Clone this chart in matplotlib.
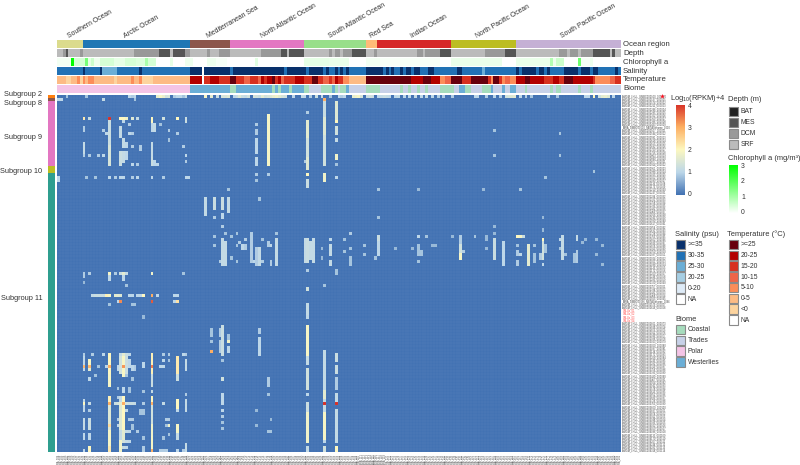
import numpy as np
import matplotlib
matplotlib.use("Agg")
import matplotlib.pyplot as plt
from matplotlib.colors import LinearSegmentedColormap, ListedColormap
from matplotlib.patches import Rectangle

plt.rcParams['font.family'] = ['Liberation Sans', 'DejaVu Sans']
plt.rcParams['mathtext.default'] = 'regular'
plt.rcParams['mathtext.fontset'] = 'custom'
plt.rcParams['mathtext.rm'] = 'Liberation Sans'
W, H = 800, 465
N_COL, N_ROW = 199, 115
TXT = '#333333'

# ---------- column annotation tracks: (category, end column) ----------
region_names = ['Southern Ocean', 'Arctic Ocean', 'Mediterranean Sea', 'North Atlantic Ocean',
                'South Atlantic Ocean', 'Red Sea', 'Indian Ocean', 'North Pacific Ocean', 'South Pacific Ocean']
region_ends = [9, 47, 61, 87, 109, 113, 139, 162, 199]
region_colors = ['#dbdb8d', '#1f77b4', '#8c564b', '#e377c2', '#98df8a', '#ffbb78', '#d62728', '#bcbd22', '#c5b0d5']
region_label_x = [69, 125, 208, 262, 330, 371, 412, 477, 562]

depth_levels = ['BAT', 'MES', 'DCM', 'SRF']
depth_colors = ['#222222', '#555555', '#999999', '#bbbbbb']
depth_runs = [(3,2),(2,3),(1,4),(3,8),(2,9),(3,27),(2,36),(1,40),(3,41),(1,45),(2,47),(3,53),(2,54),(3,57),(2,61),
              (3,72),(2,79),(1,81),(3,82),(1,87),(3,96),(2,97),(3,98),(2,100),(3,101),(2,104),(1,109),(3,112),(2,113),
              (3,127),(2,129),(3,130),(2,135),(1,139),(3,151),(2,158),(1,162),(3,177),(2,180),(3,181),(2,184),(3,185),
              (2,189),(1,195),(3,196),(1,197),(3,199)]

chl_runs = [(0.15,5),(3.0,6),(0.5,10),(1.6,11),(0.3,12),(0.6,13),(0.2,15),(0.5,20),(0.3,24),(0.5,28),(0.4,31),(1.0,32),(0.5,35),
            (0.0,40),(0.3,41),(0.0,45),(0.2,48),(0.0,53),(0.2,56),(0.1,60),(0.0,70),(0.35,71),(0.0,87),(0.3,96),(0.25,103),
            (0.0,109),(0.15,114),(0.1,135),(0.0,139),(0.25,157),(0.0,162),(0.25,174),(0.9,175),(0.2,176),(0.6,179),(0.0,184),
            (1.7,185),(0.1,188),(0.2,189),(0.0,199)]

sal_levels = ['>=35', '30-35', '25-30', '20-25', '0-20', 'NA']
sal_colors = ['#08306b', '#2171b5', '#6baed6', '#a6cee3', '#deebf7', '#ffffff']
sal_runs = [(1,9),(0,10),(1,15),(0,16),(2,17),(2,21),(1,29),(0,30),(1,47),(0,51),(5,52),(0,61),(1,62),(0,80),(1,81),(0,88),(1,89),
            (0,94),(1,95),(0,96),(1,98),(0,99),(1,100),(0,101),(1,102),(0,103),(1,109),(0,115),(1,116),(0,117),(1,118),(0,119),
            (1,121),(0,122),(1,123),(0,125),(1,126),(0,128),(1,131),(0,133),(1,135),(1,139),(1,141),(0,143),(1,150),(2,151),(1,162),
            (0,163),(1,164),(0,169),(1,170),(0,172),(1,173),(0,174),(1,179),(0,184),(1,185),(0,188),(1,189),(0,191),(1,197),(0,198),(1,199)]

temp_levels = ['>=25', '20-25', '15-20', '10-15', '5-10', '0-5', '<0', 'NA']
temp_colors = ['#67000d', '#b30000', '#d7301f', '#ef6548', '#fc8d59', '#fdbb84', '#fdd49e', '#ffffff']
temp_runs = [(5,3),(6,5),(5,7),(4,8),(6,9),(4,10),(5,11),(4,13),(6,13),(5,20),(6,21),(5,26),(4,27),(5,29),(4,30),(6,34),(5,47),
             (1,51),(7,52),(2,54),(1,57),(2,61),(0,63),(2,66),(3,68),(2,71),(3,72),(1,73),(2,74),(1,76),(0,77),(2,78),(1,79),(3,80),
             (2,84),(1,87),(2,90),(0,92),(2,94),(3,96),(2,97),(3,98),(1,99),(2,101),(4,103),(5,109),(0,125),(1,129),(0,132),(1,135),
             (4,137),(3,139),(0,143),(2,146),(0,152),(2,153),(4,154),(0,156),(2,157),(4,158),(3,160),(4,162),(1,165),(0,167),(1,172),
             (2,175),(1,177),(2,179),(0,182),(1,189),(2,190),(4,195),(3,197),(2,199)]

biome_levels = ['Coastal', 'Trades', 'Polar', 'Westerlies']
biome_colors = ['#a6dcbd', '#c7d1e8', '#f4c4e6', '#6baed6']
biome_runs = [(2,47),(3,61),(0,63),(3,76),(0,77),(3,78),(0,79),(3,82),(0,83),(3,87),(0,89),(1,93),(0,97),(3,98),(0,99),(1,100),(0,102),
              (3,103),(1,109),(0,114),(1,121),(0,122),(1,124),(0,125),(1,127),(0,128),(1,130),(0,131),(1,135),(0,140),(1,142),(3,144),
              (0,146),(1,150),(0,153),(3,154),(1,157),(3,158),(1,160),(3,162),(1,165),(0,166),(1,174),(0,175),(1,176),(0,178),(1,184),
              (0,185),(1,188),(0,189),(1,199)]

track_names = ['Ocean region', 'Depth', 'Chlorophyll a', 'Salinity', 'Temperature', 'Biome']

# ---------- row annotation: (name, colour, first row, last row) ----------
subgroup_names = ['Subgroup 2', 'Subgroup 8', 'Subgroup 9', 'Subgroup 10', 'Subgroup 11']
subgroup_first = [0, 1, 2, 23, 25]
subgroup_last = [0, 1, 22, 24, 114]
subgroup_colors = ['#ff7f0e', '#8c564b', '#e377c2', '#bcbd22', '#2f9e8f']

# ---------- heatmap, non-zero runs: (column, first row, last row, value) ----------
row0_runs = [(3,0,0,.8),(10,0,0,.8),(25,0,0,1),(26,0,0,.9),(27,0,0,1),(35,0,0,1.7),(36,0,0,1.9),(37,0,0,1.7),(38,0,0,1.3),(39,0,0,1.4),
             (41,0,0,.9),(42,0,0,1),(43,0,0,1),(44,0,0,.8),(45,0,0,1.1),(52,0,0,1.9),(54,0,0,1.6),(56,0,0,1.2),(58,0,0,1.4),(59,0,0,1.4),
             (60,0,0,1.5),(62,0,0,1),(63,0,0,1.2),(64,0,0,1.5),(65,0,0,1.2),(66,0,0,1.1),(67,0,0,1.3),(69,0,0,1.4),(70,0,0,1.3),(71,0,0,1.2),
             (72,0,0,1.6),(73,0,0,1.3),(74,0,0,1.4),(75,0,0,1.5),(76,0,0,1.7),(77,0,0,1.8),(78,0,0,1.6),(79,0,0,1.4),(80,0,0,1.3),(83,0,0,1),
             (86,0,0,1.1),(87,0,0,1),(89,0,0,.9),(91,0,0,1.2),(93,0,0,1.1),(96,0,0,.8),(99,0,0,1),(100,0,0,.9),(101,0,0,1),(104,0,0,1.7),
             (105,0,0,1.8),(106,0,0,1.9),(107,0,0,1.4),(109,0,0,1.2),(110,0,0,1.3),(111,0,0,1.2),(113,0,0,1),(114,0,0,1.1),(115,0,0,1.2),
             (116,0,0,1.1),(117,0,0,1),(119,0,0,1),(120,0,0,1.1),(122,0,0,1),(124,0,0,1),(126,0,0,1.1),(128,0,0,1),(130,0,0,1.1),(132,0,0,1),
             (134,0,0,.9),(136,0,0,.9),(139,0,0,.9),(147,0,0,1),(148,0,0,1),(151,0,0,.9),(154,0,0,1),(156,0,0,.9),(158,0,0,1.3),(159,0,0,1.4),
             (160,0,0,1.5),(161,0,0,1.6),(163,0,0,1),(165,0,0,.9),(167,0,0,.8),(173,0,0,.9),(176,0,0,.8),(186,0,0,1),(187,0,0,1),(189,0,0,2),
             (191,0,0,1.3),(192,0,0,1.6),(193,0,0,1.7),(194,0,0,1.5),(196,0,0,1)]
row1_runs = [(0,1,1,1),(1,1,1,1),(16,1,1,1.1),(27,1,1,.8),(94,1,1,3)]
sub9_left = [(9,7,7,2.2),(11,7,7,1.2),(18,7,7,4),(18,8,15,1.2),(18,16,22,1.4),(22,7,7,2),(23,7,7,2),(24,7,7,1.8),(26,7,7,1.5),(28,7,7,1.1),
             (33,7,8,2),(37,7,7,1.3),(42,7,7,2),(45,7,8,1.2),(23,8,8,1),(25,9,9,.9),(33,9,11,1),(34,9,11,1.1),(36,9,9,.8),(22,10,13,1.1),
             (9,10,11,.9),(16,11,11,.9),(17,12,12,1),(25,12,12,1),(26,12,12,.9),(39,11,11,.9),(42,12,12,.9),(39,14,14,.8),(23,14,16,1.1),
             (24,15,16,1),(26,16,16,.9),(29,16,17,.9),(44,16,16,.9),(9,15,18,1.1),(33,15,19,1.1),(11,19,19,.9),(14,19,19,.9),(16,19,19,1),
             (9,19,19,.9),(22,18,22,1.2),(23,18,21,1.1),(24,18,20,1),(33,20,22,1.2),(34,21,22,1),(45,19,19,1),(45,21,21,.9),(26,22,22,1),
             (28,22,22,.9),(35,22,22,1)]
sub9_right = [(70,9,9,.9),(70,11,12,.9),(70,14,18,1),(70,20,22,1),(74,6,22,1.9),(88,5,5,.9),(88,8,13,1.6),(88,14,19,1.3),(88,20,23,1.5),
              (87,21,21,.9),(94,2,6,1.2),(94,7,12,1.5),(94,13,22,1.3),(98,2,7,1.5),(98,8,8,2),(98,10,12,1.3),(98,14,14,1.1),(98,19,20,1.8),
              (98,22,22,.8),(154,11,11,.8),(177,12,12,.8),(154,19,19,.8),(177,19,19,.8),(189,24,24,.8)]
sub10_and_after = [(0,26,27,1),(10,26,26,.8),(13,26,26,.8),(18,26,26,1),(20,26,26,.9),(22,26,26,1),(23,26,26,1),(26,26,26,.9),(28,26,26,1),
                   (33,26,26,1),(37,26,26,.9),(45,26,26,1),(46,26,26,1),(70,25,25,.9),(70,27,27,.8),(74,25,25,.9),(88,25,25,2),(88,27,29,1.2),
                   (94,25,27,1.8),(98,26,26,1),(172,26,26,.8),(113,30,30,.7),(127,30,30,.7),(150,30,30,.7),(163,30,30,.8)]
mid_med = [(52,33,38,1.1),(55,33,36,1.2),(55,39,39,.9),(58,33,36,1.2),(58,38,39,1),(60,33,37,1.1),(60,30,30,.8),(71,33,33,.8),(70,27,27,.8),
           (113,30,30,.8),(113,39,39,.8)]
mid_atl = [(58,42,42,.9),(55,45,45,.8),(59,44,44,.8),(61,45,45,.8),(63,44,44,.8),(66,46,46,.9),(72,46,46,.8),(77,44,44,.8),(68,44,53,.9),
           (58,46,54,1.1),(59,47,54,1.1),(55,48,48,.8),(63,48,48,.8),(64,47,47,.9),(65,48,49,1),(66,48,49,.9),(70,49,54,.9),(71,49,54,1.1),
           (74,47,48,.9),(75,48,48,1),(77,46,54,1.1),(69,53,53,1),(72,53,53,.9),(61,52,52,.8),(63,53,53,.8),(57,53,53,.9),(75,53,54,.9),
           (87,46,53,1.1),(88,46,53,1.2),(89,47,52,1.1),(90,46,53,1.1),(93,49,49,.7),(93,52,52,.7),(96,46,46,1),(96,48,51,1.1),(96,53,54,1.1),
           (101,46,46,.8),(101,50,50,.8),(103,44,44,.9),(103,49,49,.8),(103,52,54,.8),(98,56,57,.8),(88,56,56,.9),(88,62,62,1),(94,61,61,.8),
           (108,48,48,.8),(108,51,51,.8),(113,45,46,1.2),(113,47,51,1),(112,52,52,.8),(119,49,49,.7)]
mid_pac = [(127,45,45,1),(130,45,45,.8),(125,49,49,.7),(127,48,51,.8),(128,50,51,.8),(127,53,53,.8),(132,48,48,.7),(133,48,48,.7),(139,45,45,.7),
           (142,45,47,.9),(142,48,50,1.3),(142,51,52,1.9),(143,50,50,.9),(147,45,45,.8),(151,45,46,.7),(151,49,49,.7),(154,42,42,.7),(154,44,44,.7),
           (154,46,52,1.2),(157,47,54,1),(162,45,45,2),(163,45,45,1.9),(164,45,45,1.2),(162,48,48,.8),(162,50,51,.9),(162,53,54,.9),(163,51,51,1),
           (166,48,54,1.6),(168,48,48,.8),(168,51,53,.8),(170,51,52,.9),(171,39,39,.7),(171,43,43,.7),(171,46,46,2),(171,47,52,1.3),(171,54,54,1),
           (172,48,50,.8),(177,46,46,1),(178,45,52,1.1),(179,51,51,.8),(177,49,49,.8),(183,45,46,1.1),(183,50,53,.9),(182,51,53,.8),(185,47,47,.7),
           (186,46,46,.7),(190,46,46,.7),(192,48,48,.7),(190,51,51,.7),(192,54,54,.7)]
lower_upper = [(9,57,58,.9),(11,57,57,.9),(18,57,57,1.9),(18,58,59,1),(20,57,57,.9),(22,57,57,1.2),(23,57,57,1.6),(24,57,57,1.1),(33,57,57,1.8),(44,57,57,.8),
               (23,58,59,1),(9,60,60,.7),(24,61,61,.8),(94,61,61,.8),(12,64,64,1.1),(13,64,64,1.2),(14,64,64,1.2),(15,64,64,1.2),(16,64,64,1.2),
               (17,64,64,2.1),(18,64,64,1.9),(20,64,64,1.6),(21,64,64,1.6),(22,64,64,1.5),(25,64,64,1),(26,64,64,1),(28,64,64,1),(29,64,64,1),(30,64,64,2),
               (33,64,64,3),(35,64,64,1),(41,64,64,1),(42,64,64,1),(21,66,66,1),(22,66,66,3.3),(26,67,67,.8),(33,66,66,3.7),(41,66,66,1),(42,66,66,2.3),
               (18,67,67,.8),(27,67,67,.8),(30,71,71,.7)]
lower_mid = [(54,75,77,.8),(54,79,79,.8),(54,82,82,3),(57,75,77,.9),(57,79,82,.9),(58,74,83,1.2),(60,77,78,.8),(60,79,79,1.8),(60,81,82,1),
             (71,75,76,.9),(71,78,83,1),(58,85,85,.8),(58,91,91,1.3),(74,91,93,.9),(74,96,96,.8),(58,96,99,1),(58,101,101,1),(58,103,103,.9),
             (58,105,105,.8),(58,107,107,.8),(70,101,101,.7),(75,104,104,.7),(70,106,106,.7),(74,108,108,.8),(75,108,108,.8)]
lower_verticals = [(88,62,62,1.3),(88,67,70,1.1),(88,71,71,1),(88,74,83,1.9),(88,84,86,1.1),(88,88,94,1.3),(88,96,96,1),(88,99,101,1.2),
                   (88,102,111,1.8),(88,113,114,1.1),(94,82,98,1.1),(94,95,97,1.6),(94,99,99,4),(94,100,101,1.1),(94,102,110,1.9),(94,111,111,1),
                   (94,113,114,1.3),(98,83,85,1.2),(98,87,89,1.2),(98,91,94,.9),(98,96,98,1.1),(98,99,99,4),(98,101,111,1.1),(98,113,114,2)]
lower_left_a = [(9,83,83,.9),(12,83,83,.9),(16,83,83,1),(18,83,92,2),(22,83,83,1.1),(23,83,83,1.6),(24,83,83,1.2),(25,83,83,1),(33,83,90,2.1),(37,83,83,.9),
                (39,83,83,.9),(42,84,89,2.2),(44,83,83,1),(45,83,83,.9),(9,84,86,1),(9,87,87,2.9),(9,88,88,1),(11,85,87,1.9),(11,87,87,2.9),(11,88,88,1.6),
                (14,87,87,.8),(17,87,87,1),(18,87,87,3),(21,87,88,1),(22,84,89,1.3),(23,84,90,1.9),(23,87,87,3.2),(24,84,89,1.2),(25,85,87,1),(26,87,88,1),
                (27,87,88,.9),(30,86,87,1),(33,87,87,3.4),(36,87,87,1),(37,85,85,1),(37,87,87,1),(39,85,85,.8),(45,85,88,1.1),(13,90,90,.8),(24,90,90,.8),
                (33,90,93,1.2),(26,91,91,.8),(11,91,91,1),(18,90,93,1.9),(42,90,91,1.2)]
lower_left_b = [(21,94,94,.8),(23,94,95,1),(25,94,95,.8),(30,95,95,.8),(33,95,95,1.1),(45,96,96,.9),(18,97,98,2.1),(21,97,97,.9),(22,97,98,1.1),(23,97,98,2),
                (33,97,98,2),(9,98,98,1),(9,99,99,2),(11,99,99,1.1),(18,99,99,3),(20,99,99,1.2),(21,99,99,1.3),(22,99,99,1.6),(23,99,99,3),(24,99,99,1.3),
                (25,99,99,1.2),(26,99,99,1.2),(27,99,99,1.1),(30,99,99,.9),(33,99,99,3),(37,99,99,1.1),(42,98,100,2),(45,98,101,1.1),(9,100,101,1),(18,100,107,1.5),
                (22,100,107,1.5),(23,100,107,2),(24,101,101,1),(29,101,102,.8),(30,101,102,.8),(33,100,105,1.3),(42,101,101,1),(9,104,107,1.1),(11,101,101,.9),(11,104,107,1.2),
                (18,106,106,2.4),(21,104,104,.9),(21,106,106,1),(25,104,104,.9),(26,104,104,.9),(33,106,109,1.8),(38,104,104,.9),(39,104,104,.9),(39,106,106,1.8),
                (38,106,106,.8),(42,106,108,1.9),(26,106,107,.8),(28,108,108,.9),(18,108,112,1.9),(22,108,110,1.1),(23,108,110,1.6),(24,108,108,1.1),(25,108,108,1),
                (30,110,110,.8),(37,110,110,.8),(39,109,109,.8),(42,109,110,1.1),(9,109,110,1),(11,109,110,1),(33,110,113,1.9)]
lower_left_c = [(11,113,114,2),(9,114,114,1),(18,113,114,2.2),(22,111,114,1.8),(23,111,111,1.3),(24,111,111,1.1),(25,111,111,1),(23,113,113,1.1),(24,113,113,1),
                (30,113,114,.9),(33,114,114,3),(36,114,114,.9),(37,114,114,.9),(38,114,114,.9),(45,112,114,1.1),(42,114,114,1),(44,114,114,.9)]
all_runs = (row0_runs + row1_runs + sub9_left + sub9_right + sub10_and_after + mid_med + mid_atl + mid_pac
            + lower_upper + lower_mid + lower_verticals + lower_left_a + lower_left_b + lower_left_c)

red_rows = [69, 70, 71, 72]
long_rows = [10, 66]
legend_heat_ticks = [0, 1, 2, 3, 4]
legend_chl_ticks = [0, 1, 2, 3]

# ---------- helpers ----------
def fax(x0, y0, x1, y1, **kw):
    return fig.add_axes([x0 / W, 1 - y1 / H, (x1 - x0) / W, (y1 - y0) / H], **kw)

def expand(runs):
    out, start = np.full(N_COL, np.nan), 0
    for v, end in runs:
        out[start:end] = v
        start = end
    return out

fig = plt.figure(figsize=(8, 4.65), dpi=100)
bg = fax(0, 0, W, H)
bg.set_xlim(0, W); bg.set_ylim(H, 0); bg.axis('off')

def track(y0, y1, values, cmap, vmin, vmax):
    a = fax(57, y0, 621, y1)
    a.pcolormesh(np.arange(N_COL + 1), [0, 1], values[None, :], cmap=cmap, vmin=vmin, vmax=vmax, rasterized=True)
    a.set_xlim(0, N_COL); a.axis('off')

region_runs = list(zip(range(9), region_ends))
depth_cmap = ListedColormap(depth_colors)
chl_cmap = LinearSegmentedColormap.from_list('chl', ['#ffffff', '#00ff00'])
track_y = [(40, 48), (49.5, 57.3), (58.5, 66.3), (67.3, 75), (76, 83.7), (85, 92.8)]
track(*track_y[0], expand(region_runs), ListedColormap(region_colors), -.5, 8.5)
track(*track_y[1], expand(depth_runs), depth_cmap, -.5, 3.5)
track(*track_y[2], expand(chl_runs), chl_cmap, 0, 3)
track(*track_y[3], expand(sal_runs), ListedColormap(sal_colors), -.5, 5.5)
track(*track_y[4], expand(temp_runs), ListedColormap(temp_colors), -.5, 7.5)
track(*track_y[5], expand(biome_runs), ListedColormap(biome_colors), -.5, 3.5)

for name, (a0, a1) in zip(track_names, track_y):
    bg.text(623, (a0 + a1) / 2, name, fontsize=5.6, color=TXT, va='center', ha='left')
for name, x in zip(region_names, region_label_x):
    bg.text(x, 38.5, name, fontsize=4.95, color=TXT, rotation=30, rotation_mode='anchor', ha='left', va='baseline')

# heatmap
mat = np.zeros((N_ROW, N_COL))
for c, r0, r1, v in all_runs:
    mat[r0:r1 + 1, c] = v
heat_cmap = LinearSegmentedColormap.from_list('heat', ['#4272b3', '#bcd7e9', '#fdf8c0', '#fdae61', '#d73027'])
hx = fax(57, 95, 621, 452)
hx.pcolormesh(np.arange(N_COL + 1), np.arange(N_ROW + 1), mat, cmap=heat_cmap, vmin=0, vmax=4, linewidth=0)
hx.vlines(np.arange(1, N_COL), 0, N_ROW, color='#ffffff', alpha=0.08, linewidth=0.35)
hx.hlines(np.arange(1, N_ROW), 0, N_COL, color='#ffffff', alpha=0.08, linewidth=0.35)
hx.set_xlim(0, N_COL); hx.set_ylim(N_ROW, 0); hx.axis('off')

# row annotation
rx = fax(47.5, 95, 55, 452)
for first, last, col in zip(subgroup_first, subgroup_last, subgroup_colors):
    rx.barh((first + last + 1) / 2, 1, height=last - first + 1, color=col, linewidth=0)
rx.set_xlim(0, 1); rx.set_ylim(N_ROW, 0); rx.axis('off')
label_y = [94, 103, 137.5, 171.5, 298]
for name, y in zip(subgroup_names, label_y):
    bg.text(42.5, y, name, fontsize=5.3, color=TXT, ha='right', va='center')

# tiny row / column labels
for r in range(N_ROW):
    y = 95 + (r + .5) * 357 / N_ROW
    if r in red_rows:
        bg.text(622.5, y, f'OM-Ux_{r - 68:02d}', fontsize=1.8, color='#ff4040', va='center')
    elif r in long_rows:
        bg.text(622.5, y, f'TARA_GMBC00{r:03d}_METAGenome_{r:04d}', fontsize=1.8, color='#444444', va='center')
    else:
        bg.text(622.5, y, f'AMGM_LHUL_GMBC00{r * 37 + 100:04d}_000{r:03d}', fontsize=1.8, color='#444444', va='center')
for c in range(N_COL):
    bg.text(57 + (c + .5) * 564 / N_COL, 453.5, f'TARA_{c + 4:03d}', fontsize=1.8, color='#444444',
            rotation=90, ha='center', va='top')
bg.scatter([661.7], [96], marker='*', s=14, color='#ff1020', linewidth=0, zorder=5)

# legends
def swatches(x, y_tops, labels, colors):
    for y, lab, col in zip(y_tops, labels, colors):
        bg.add_patch(Rectangle((x, y), 9.6, 9.6, facecolor=col, edgecolor='#8a8a8a', linewidth=0.8))
        bg.text(x + 12, y + 5, lab, fontsize=4.9, color=TXT, va='center')

TITLE = 5.4
bg.text(670, 98.5, 'Log$_{10}$(RPKM)+4', fontsize=TITLE, color=TXT, va='center')
bg.text(728.5, 99.5, 'Depth (m)', fontsize=TITLE, color=TXT, va='center')
swatches(728.5, [106.5, 117.5, 128.5, 139.5], depth_levels, depth_colors)
bg.text(728.5, 158.5, 'Chlorophyll a (mg/m³)', fontsize=TITLE, color=TXT, va='center')
bg.text(675, 234, 'Salinity (psu)', fontsize=TITLE, color=TXT, va='center')
swatches(675.5, [239.5, 250.5, 261, 272, 283, 294], sal_levels, sal_colors)
bg.text(727, 234, 'Temperature (°C)', fontsize=TITLE, color=TXT, va='center')
swatches(728.5, [239.5, 250.5, 261, 272, 282.5, 293.5, 304, 315], temp_levels, temp_colors)
bg.text(675, 319, 'Biome', fontsize=TITLE, color=TXT, va='center')
swatches(675.5, [324.5, 335.5, 346, 357], biome_levels, biome_colors)

cb = fax(676, 105, 685, 195)
cb.imshow(np.linspace(4, 0, 256)[:, None], cmap=heat_cmap, vmin=0, vmax=4, aspect='auto')
cb.axis('off')
for t in legend_heat_ticks:
    bg.text(687.5, 194 - t * 21.8, str(t), fontsize=4.9, color=TXT, va='center')
cg = fax(729, 165, 738, 212.7)
cg.imshow(np.linspace(3, 0, 256)[:, None], cmap=chl_cmap, vmin=0, vmax=3, aspect='auto')
cg.axis('off')
for t in legend_chl_ticks:
    bg.text(741, 212.5 - t * 15.5, str(t), fontsize=4.9, color=TXT, va='center')

fig.savefig('out.png', dpi=100)
